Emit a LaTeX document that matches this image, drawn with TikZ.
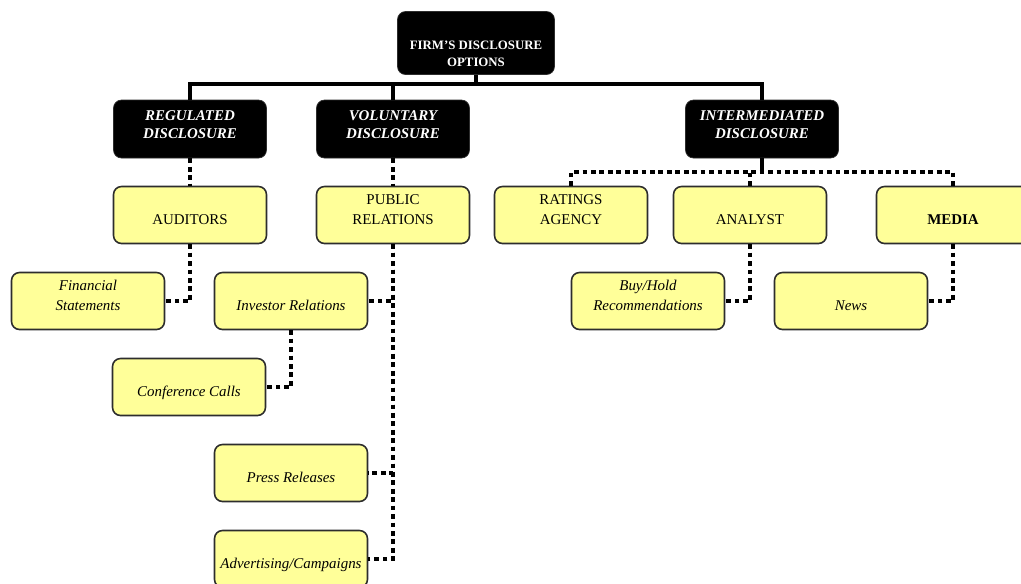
\documentclass[tikz,border=0pt]{standalone}
\usepackage{fontspec}
\setmainfont{Liberation Serif}
\usepackage{xcolor}
\usetikzlibrary{shapes.geometric, arrows}
\definecolor{boxyellow}{RGB}{255,255,153}
\definecolor{boxedge}{RGB}{45,45,45}
\tikzstyle{head} = [rectangle, rounded corners=0.16cm, minimum width=3.06cm, minimum height=1.16cm, text centered, align=center, text height=10.4pt, text depth=0pt, fill=black, draw=boxedge, text=white, font=\fontsize{8.5}{10.2}\selectfont\bfseries\itshape]
\tikzstyle{branch} = [rectangle, rounded corners=0.16cm, minimum width=3.06cm, minimum height=1.14cm, text centered, align=center, text height=10.8pt, text depth=0pt, fill=boxyellow, draw=boxedge, line width=0.9pt, font=\fontsize{8.5}{11.4}\selectfont]
\tikzstyle{leaf} = [branch, font=\fontsize{8.5}{11.4}\selectfont\itshape]
\tikzstyle{solidline} = [line width=2.3pt]
\tikzstyle{dotline} = [line width=2.7pt, dash pattern=on 2.7pt off 2.1pt]

\begin{document}
\begin{tikzpicture}[x=0.02cm, y=-0.02cm]
   \useasboundingbox (0,0) rectangle (1021,583);
   % top level
   \node (firm) [head, minimum width=3.14cm, minimum height=1.26cm, text height=26.5pt, font=\fontsize{7.3}{9.7}\selectfont\bfseries] at (476,43) {FIRM'S DISCLOSURE\\OPTIONS};
   \node (reg) [head] at (190,129) {REGULATED\\DISCLOSURE};
   \node (vol) [head] at (393,129) {VOLUNTARY\\DISCLOSURE};
   \node (inter) [head] at (762,129) {INTERMEDIATED\\DISCLOSURE};
   % second level
   \node (aud) [branch] at (190,215) {AUDITORS};
   \node (pr) [branch] at (393,215) {PUBLIC\\RELATIONS};
   \node (rat) [branch] at (571,215) {RATINGS\\AGENCY};
   \node (ana) [branch] at (750,215) {ANALYST};
   \node (med) [branch, font=\fontsize{8.5}{11.4}\selectfont\bfseries] at (953,215) {MEDIA};
   % third level
   \node (fin) [leaf] at (88,301) {Financial\\Statements};
   \node (inv) [leaf] at (291,301) {Investor Relations};
   \node (conf) [leaf] at (189,387) {Conference Calls};
   \node (press) [leaf] at (291,473) {Press Releases};
   \node (adv) [leaf] at (291,559) {Advertising/Campaigns};
   \node (buy) [leaf] at (648,301) {Buy/Hold\\Recommendations};
   \node (news) [leaf] at (851,301) {News};
   % connectors
   \coordinate (tbar) at (476,84);
   \coordinate (ibar) at (762,172);
   \draw [solidline] (firm.south) -- (tbar);
   \draw [solidline] (reg.north) -- (reg.north |- tbar) -- (inter.north |- tbar) -- (inter.north);
   \draw [solidline] (vol.north) -- (vol.north |- tbar);
   \draw [solidline] (inter.south) -- (ibar);
   \draw [dotline] (reg.south) -- (aud.north);
   \draw [dotline] (vol.south) -- (pr.north);
   \draw [dotline] (rat.north) -- (rat.north |- ibar) -- (med.north |- ibar) -- (med.north);
   \draw [dotline] (ana.north) -- (ana.north |- ibar);
   \draw [dotline] (aud.south) |- (fin.east);
   \draw [dotline] (pr.south) |- (adv.east);
   \draw [dotline] (pr.south) |- (press.east);
   \draw [dotline] (pr.south) |- (inv.east);
   \draw [dotline] (inv.south) |- (conf.east);
   \draw [dotline] (ana.south) |- (buy.east);
   \draw [dotline] (med.south) |- (news.east);
\end{tikzpicture}
\end{document}
